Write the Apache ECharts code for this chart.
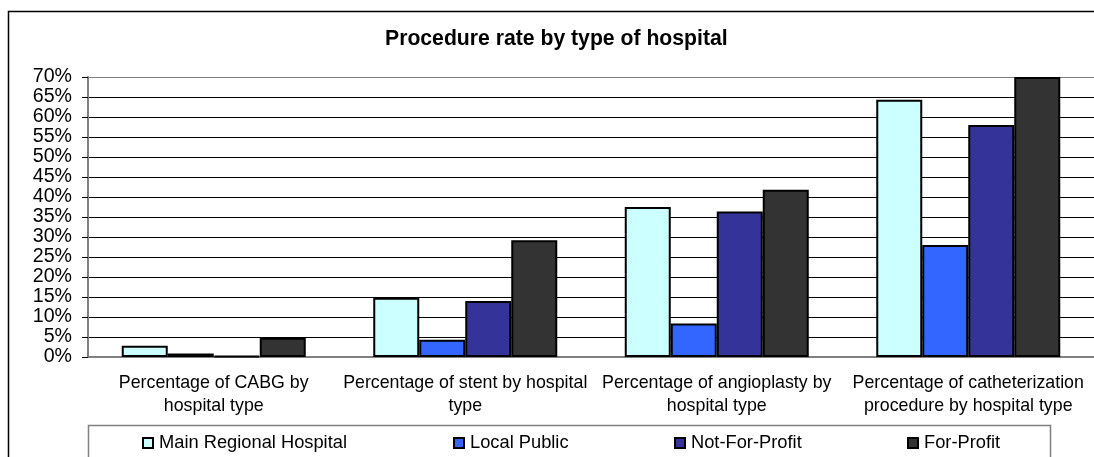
<!DOCTYPE html>
<html>
<head>
<meta charset="utf-8">
<script src="https://cdn.jsdelivr.net/npm/echarts@6/dist/echarts.min.js"></script>
<style>
  html, body { margin: 0; padding: 0; background: #fff; }
  #chart { width: 1094px; height: 457px; }
</style>
</head>
<body>
<div id="chart"></div>
<script>
const categories = [
  'Percentage of CABG by\nhospital type',
  'Percentage of stent by hospital\ntype',
  'Percentage of angioplasty by\nhospital type',
  'Percentage of catheterization\nprocedure by hospital type'
];
const seriesNames = ['Main Regional Hospital', 'Local Public', 'Not-For-Profit', 'For-Profit'];
const mainRegional = [2.8, 14.8, 37.5, 64.3];
const localPublic = [0.9, 4.3, 8.4, 28.0];
const notForProfit = [0.3, 14.0, 36.4, 58.0];
const forProfit = [4.8, 29.2, 41.8, 70.0];
const yTicks = [0, 5, 10, 15, 20, 25, 30, 35, 40, 45, 50, 55, 60, 65, 70];

const colors = ['#CCFFFF', '#3366FF', '#333399', '#333333'];
const values = [mainRegional, localPublic, notForProfit, forProfit];
const legendLeft = [142, 453, 674, 907];
const font = 'Liberation Sans, Arial, sans-serif';

const chart = echarts.init(document.getElementById('chart'));

// split line colors: black except the top one (plot border, grey)
const splitColors = yTicks.map((t, i) => i === yTicks.length - 1 ? '#808080' : '#000');

const series = seriesNames.map((name, i) => ({
  name: name,
  type: 'bar',
  data: values[i],
  barWidth: 46,
  barGap: 0,
  itemStyle: { color: colors[i], borderColor: '#000', borderWidth: 2 }
}));

const legends = seriesNames.map((name, i) => ({
  data: [name],
  left: legendLeft[i],
  top: 434,
  icon: 'rect',
  itemWidth: 10,
  itemHeight: 10,
  itemGap: 0,
  selectedMode: false,
  textStyle: { fontFamily: font, fontSize: 18.3, color: '#000', padding: [0, 0, 0, 1] },
  padding: 0
}));

chart.setOption({
  animation: false,
  backgroundColor: '#fff',
  title: {
    text: 'Procedure rate by type of hospital',
    left: 385,
    top: 29,
    padding: 0,
    textStyle: { fontFamily: font, fontSize: 21.2, fontWeight: 'bold', color: '#000' }
  },
  legend: legends,
  graphic: [
    {
      type: 'rect',
      shape: { x: 8.5, y: 11.5, width: 1200, height: 600 },
      style: { fill: 'none', stroke: '#000', lineWidth: 1.5 },
      silent: true
    },
    {
      type: 'rect',
      shape: { x: 88.5, y: 425.5, width: 962, height: 60 },
      style: { fill: 'none', stroke: '#808080', lineWidth: 1.5 },
      silent: true
    }
  ],
  grid: { left: 88, top: 77, width: 1016, height: 280 },
  xAxis: {
    type: 'category',
    data: categories,
    axisLine: { lineStyle: { color: '#808080', width: 2 } },
    axisTick: { length: 6, lineStyle: { color: '#808080', width: 2 } },
    axisLabel: {
      interval: 0,
      margin: 15,
      fontFamily: font,
      fontSize: 17.8,
      lineHeight: 23,
      color: '#000'
    }
  },
  yAxis: {
    type: 'value',
    min: 0,
    max: 70,
    interval: 5,
    axisLine: { show: true, lineStyle: { color: '#808080', width: 2 } },
    axisTick: { show: true, length: 6, lineStyle: { color: '#000' } },
    splitLine: { lineStyle: { color: splitColors, width: 1 } },
    axisLabel: {
      margin: 16,
      hideOverlap: false,
      showMinLabel: true,
      showMaxLabel: true,
      fontFamily: font,
      fontSize: 19.6,
      color: '#000',
      formatter: '{value}%'
    }
  },
  series: series
});
</script>
</body>
</html>
